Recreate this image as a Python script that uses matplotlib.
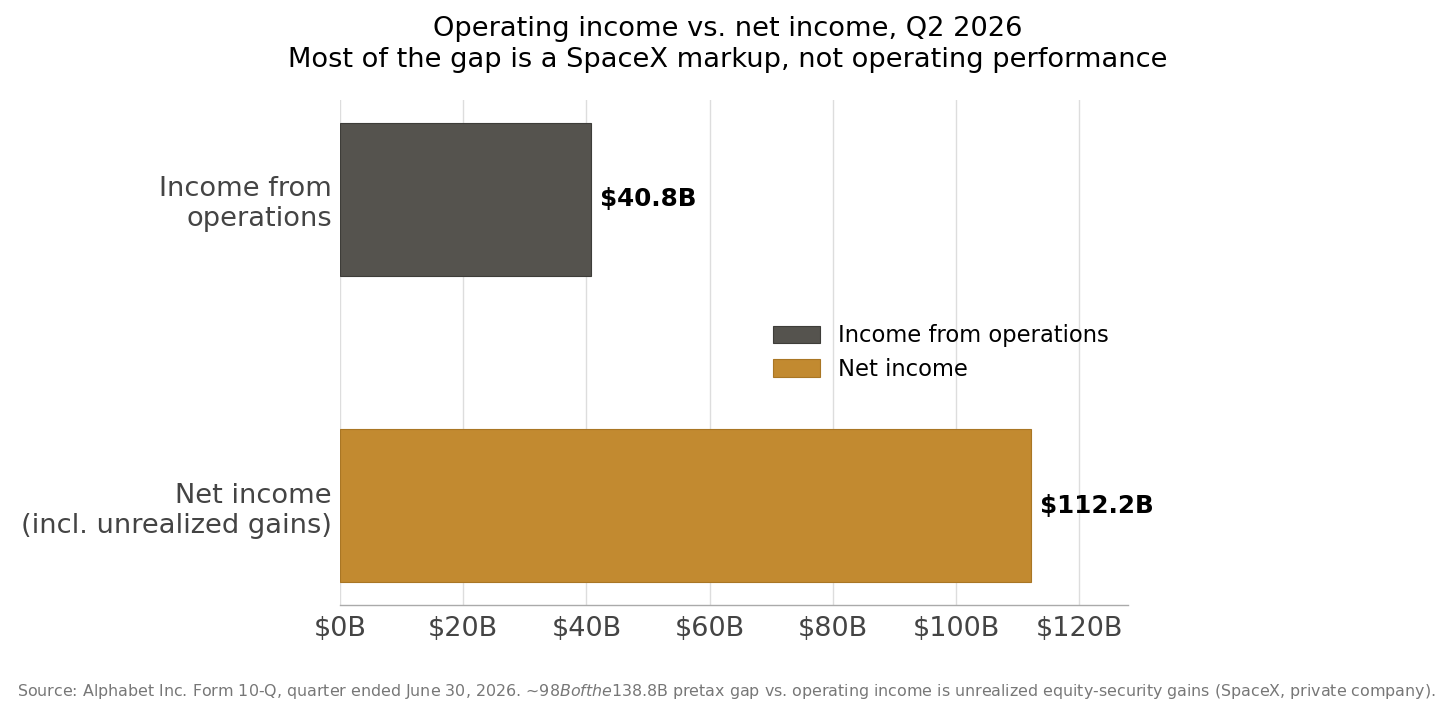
import matplotlib
matplotlib.use("Agg")
import matplotlib.pyplot as plt
from matplotlib.ticker import FuncFormatter

categories = ["Income from\noperations", "Net income\n(incl. unrealized gains)"]
legend_labels = ["Income from operations", "Net income"]
values = [40.8, 112.2]
value_labels = ["$40.8B", "$112.2B"]
colors = ["#55534e", "#c28a30"]
edge_colors = ["#3e3d39", "#a97624"]
x_ticks = [0, 20, 40, 60, 80, 100, 120]

fig = plt.figure(figsize=(14.56, 7.2), dpi=100)
ax = fig.add_axes([0.2335, 0.1597, 0.5412, 0.7014])

ypos = list(range(len(categories)))
for i, (v, c, ec, lab) in enumerate(zip(values, colors, edge_colors, legend_labels)):
    ax.barh(ypos[i], v, height=0.5, color=c, edgecolor=ec, linewidth=0.8, label=lab, zorder=3)
ax.invert_yaxis()
ax.set_yticks(ypos)
ax.set_yticklabels(categories, fontsize=19.6, color="#444444")
ax.set_xticks(x_ticks)
ax.xaxis.set_major_formatter(FuncFormatter(lambda x, p: f"${x:.0f}B"))
ax.tick_params(axis="x", labelsize=19.5, labelcolor="#444444", length=0, pad=8)
ax.tick_params(axis="y", length=0, pad=6)
ax.set_xlim(0, max(values) * 1.14)

for y, v, t in zip(ypos, values, value_labels):
    ax.annotate(t, xy=(v, y), xytext=(6, 0), textcoords="offset points",
                ha="left", va="center", fontsize=17.7, fontweight="bold", color="black")

ax.grid(axis="x", color="#dddddd", linewidth=1, zorder=0)
ax.set_axisbelow(True)
for s in ["top", "right", "left"]:
    ax.spines[s].set_visible(False)
ax.spines["bottom"].set_color("#aaaaaa")
ax.spines["bottom"].set_linewidth(1)

ax.legend(loc="center left", bbox_to_anchor=(0.524, 0.5), frameon=False, fontsize=16.3,
          handlelength=2.08, handleheight=0.8, labelspacing=0.48)

fig.text(0.5, 0.938, "Operating income vs. net income, Q2 2026\nMost of the gap is a SpaceX markup, not operating performance",
         ha="center", va="center", fontsize=19.6, color="black", linespacing=1.24)

fig.text(0.012, 0.039, "Source: Alphabet Inc. Form 10-Q, quarter ended June 30, 2026. ~$98B of the $138.8B pretax gap vs. operating income is unrealized equity-security gains (SpaceX, private company).",
         ha="left", va="center", fontsize=11.45, color="#777777")

fig.savefig("out.png", dpi=100)
